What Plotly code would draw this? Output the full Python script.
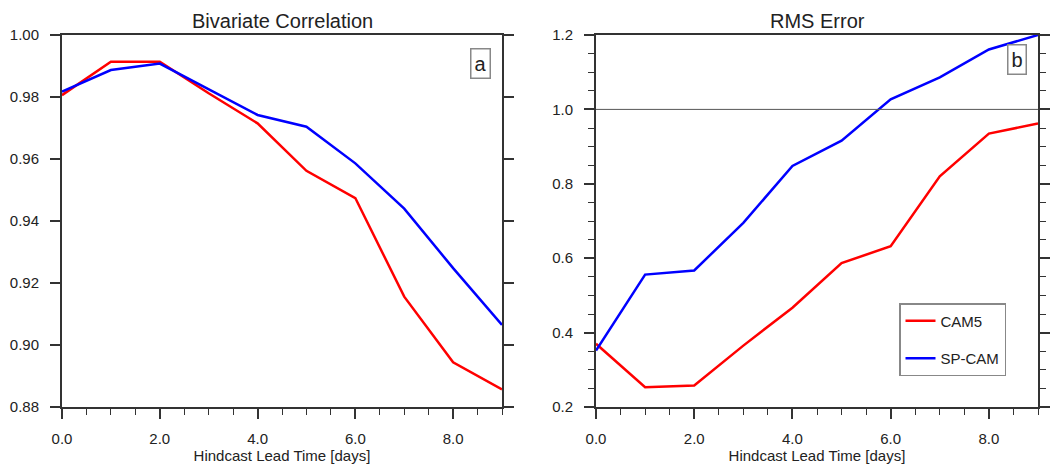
import plotly.graph_objects as go

lead_days = [0, 1, 2, 3, 4, 5, 6, 7, 8, 9]

corr_cam5 = [0.9806, 0.9914, 0.9914, 0.9812, 0.9715, 0.9562, 0.9474, 0.9156, 0.8944, 0.8857]
corr_spcam = [0.9817, 0.9887, 0.9908, 0.9825, 0.9742, 0.9704, 0.9586, 0.9440, 0.9248, 0.9065]

rms_cam5 = [0.370, 0.253, 0.258, 0.365, 0.467, 0.587, 0.632, 0.820, 0.935, 0.962]
rms_spcam = [0.352, 0.556, 0.567, 0.695, 0.848, 0.916, 1.027, 1.086, 1.161, 1.200]

series_names = ["CAM5", "SP-CAM"]
series_colors = ["#ff0000", "#0000ff"]

panel_titles = ["Bivariate Correlation", "RMS Error"]
panel_labels = ["a", "b"]
x_title = "Hindcast Lead Time [days]"

W, H = 1058, 464
FONT = "Liberation Sans, Arial, Helvetica, sans-serif"
AX = "#333333"

fig = go.Figure()

for name, col, ys in zip(series_names, series_colors, [corr_cam5, corr_spcam]):
    fig.add_trace(go.Scatter(x=lead_days, y=ys, mode="lines", name=name,
                             line=dict(color=col, width=2.5),
                             xaxis="x", yaxis="y", showlegend=False))
for name, col, ys in zip(series_names, series_colors, [rms_cam5, rms_spcam]):
    fig.add_trace(go.Scatter(x=lead_days, y=ys, mode="lines", name=name,
                             line=dict(color=col, width=2.5),
                             xaxis="x2", yaxis="y2", showlegend=True,
                             legendgroup=name))

def px_x(p):
    return p / W

def px_y(p):
    return 1 - p / H

ydom = [px_y(407), px_y(35)]

xcommon = dict(range=[0, 9], dtick=2, tick0=0, tickformat=".1f",
               ticks="outside", ticklen=10, tickwidth=1.5, tickcolor=AX,
               showline=True, linecolor=AX, linewidth=2, mirror=True,
               showgrid=False, zeroline=False, automargin=False,
               minor=dict(dtick=0.5, ticks="outside", ticklen=6, tickwidth=1.2, tickcolor=AX, showgrid=False),
               tickfont=dict(size=15, color="#222", family=FONT),
               ticklabelstandoff=7,
               title=dict(text=x_title, font=dict(size=15, color="#222", family=FONT), standoff=3))

ycommon = dict(ticks="outside", ticklen=10, tickwidth=1.5, tickcolor=AX,
               showline=True, linecolor=AX, linewidth=2, mirror="ticks",
               showgrid=False, zeroline=False, automargin=False,
               tickfont=dict(size=15, color="#222", family=FONT), ticklabelstandoff=8)

fig.update_layout(
    width=W, height=H,
    margin=dict(l=0, r=0, t=0, b=0),
    paper_bgcolor="white", plot_bgcolor="white",
    font=dict(family=FONT, color="#222"),
    xaxis=dict(domain=[px_x(62), px_x(502)], anchor="y", **xcommon),
    xaxis2=dict(domain=[px_x(596), px_x(1038)], anchor="y2", **xcommon),
    yaxis=dict(domain=ydom, anchor="x", range=[0.88, 1.0], dtick=0.02, tick0=0.88,
               tickformat=".2f", **ycommon),
    yaxis2=dict(domain=ydom, anchor="x2", range=[0.2, 1.2], dtick=0.2, tick0=0.2,
                tickformat=".1f",
                minor=dict(dtick=0.05, ticks="outside", ticklen=6, tickwidth=1.2, tickcolor=AX, showgrid=False),
                **ycommon),
    legend=dict(x=px_x(899), y=px_y(303), xanchor="left", yanchor="top",
                bordercolor="#888888", borderwidth=1.5, bgcolor="white",
                font=dict(size=15, color="#222", family=FONT),
                traceorder="grouped", tracegroupgap=15, itemwidth=30),
)

# reference line at 1.0 on RMS panel
fig.add_shape(type="line", xref="x2 domain", yref="y2", x0=0, x1=1, y0=1.0, y1=1.0,
              line=dict(color="#555555", width=1))

# panel titles
for title, cx in zip(panel_titles, [282, 817]):
    fig.add_annotation(text=title, xref="paper", yref="paper", x=px_x(cx), y=px_y(21),
                       showarrow=False, xanchor="center", yanchor="middle",
                       font=dict(size=20, color="#222", family=FONT))

# panel labels
for lab, cx, cy in zip(panel_labels, [480, 1017], [63, 60]):
    fig.add_annotation(text=lab, xref="paper", yref="paper", x=px_x(cx), y=px_y(cy),
                       showarrow=False, xanchor="center", yanchor="middle",
                       font=dict(size=20, color="#222", family=FONT),
                       bordercolor="#888888", borderwidth=1.5, borderpad=3, bgcolor="white")

fig.write_html("out.html")
